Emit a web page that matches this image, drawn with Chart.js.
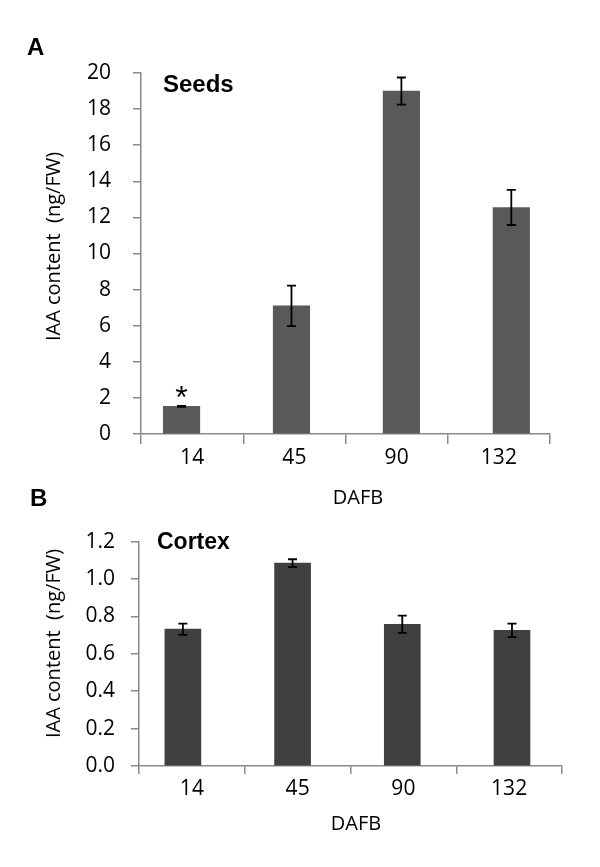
<!DOCTYPE html>
<html>
<head>
<meta charset="utf-8">
<script src="https://cdn.jsdelivr.net/npm/chart.js@4.4.0/dist/chart.umd.min.js"></script>
<style>
body { margin: 0; background: #fff; }
#wrap { position: relative; width: 600px; height: 867px; }
.box { position: absolute; left: 0; width: 600px; }
</style>
</head>
<body>
<div id="wrap">
  <div class="box" style="top:0;height:520px"><canvas id="seeds"></canvas></div>
  <div class="box" style="top:480px;height:387px"><canvas id="cortex"></canvas></div>
</div>
<script>
// days after full bloom
var days = ["14", "45", "90", "132"];

// panel A - seeds
var seedsIAA = [1.53, 7.10, 19.0, 12.55];
var seedsErr = [0.03, 1.12, 0.75, 0.97];
var seedsTicks = [0, 2, 4, 6, 8, 10, 12, 14, 16, 18, 20];

// panel B - cortex
var cortexIAA = [0.732, 1.085, 0.758, 0.726];
var cortexErr = [0.03, 0.021, 0.046, 0.036];
var cortexTicks = [0, 0.2, 0.4, 0.6, 0.8, 1.0, 1.2];

var yTitle = "IAA content  (ng/FW)";
var xTitle = "DAFB";

var axisGray = "#8a8a8a";
var tickFont = { family: "'Open Sans'", size: 21 };

// draws the error bars from the y scale
var errorBars = {
  id: "errorBars",
  afterDatasetsDraw: function (chart, args, opts) {
    var ctx = chart.ctx, y = chart.scales.y;
    var meta = chart.getDatasetMeta(0);
    ctx.save();
    ctx.strokeStyle = "#000";
    ctx.lineWidth = opts.width;
    meta.data.forEach(function (bar, i) {
      var v = chart.data.datasets[0].data[i].y, e = opts.errors[i];
      var top = y.getPixelForValue(v + e), bot = y.getPixelForValue(v - e);
      ctx.beginPath();
      ctx.moveTo(bar.x, top); ctx.lineTo(bar.x, bot);
      ctx.moveTo(bar.x - opts.cap, top); ctx.lineTo(bar.x + opts.cap, top);
      ctx.moveTo(bar.x - opts.cap, bot); ctx.lineTo(bar.x + opts.cap, bot);
      ctx.stroke();
    });
    // significance star
    if (opts.star != null) {
      var b = meta.data[opts.star];
      var vs = chart.data.datasets[0].data[opts.star].y + opts.errors[opts.star];
      ctx.font = "32px 'Liberation Sans'";
      ctx.fillStyle = "#000";
      ctx.textAlign = "center";
      ctx.textBaseline = "alphabetic";
      var m = ctx.measureText("*");
      var cy = y.getPixelForValue(vs) - 14;
      ctx.fillText("*", b.x, cy + (m.actualBoundingBoxAscent - m.actualBoundingBoxDescent) / 2);
    }
    ctx.restore();
  }
};

// panel letter, panel name and axis titles
var panelText = {
  id: "panelText",
  afterDraw: function (chart, args, o) {
    var ctx = chart.ctx;
    ctx.save();
    ctx.fillStyle = "#000";
    ctx.textBaseline = "alphabetic";
    ctx.textAlign = "left";
    ctx.font = "bold 24px 'Liberation Sans'";
    ctx.fillText(o.letter, o.letterX, o.letterY);
    ctx.font = "bold " + o.nameSize + "px 'Liberation Sans'";
    ctx.fillText(o.name, o.nameX, o.nameY);
    ctx.font = "20px 'Open Sans'";
    ctx.textAlign = "center";
    ctx.fillText(xTitle, o.xTitleX, o.xTitleY);
    ctx.translate(o.yTitleX, o.yTitleY);
    ctx.rotate(-Math.PI / 2);
    ctx.fillText(yTitle, 0, 0);
    ctx.restore();
  }
};

function makeChart(id, values, errs, color, t) {
  return new Chart(document.getElementById(id), {
    type: "bar",
    data: {
      labels: days,
      datasets: [{
        data: values.map(function (v, i) { return { x: i, y: v }; }),
        xAxisID: "xb",
        backgroundColor: color,
        borderWidth: 0,
        barThickness: t.barWidth
      }]
    },
    options: {
      responsive: true,
      maintainAspectRatio: false,
      animation: false,
      layout: { padding: t.padding },
      plugins: {
        legend: { display: false },
        tooltip: { enabled: false },
        errorBars: { errors: errs, cap: 4.5, width: 1.8, star: t.star },
        panelText: t.text
      },
      scales: {
        x: {
          type: "category",
          offset: true,
          grid: { offset: true, drawOnChartArea: false, tickLength: t.xTick, color: axisGray, lineWidth: 1.5 },
          border: { color: axisGray, width: 1.5 },
          ticks: { padding: t.xPad, font: tickFont, color: "#000" },
          afterFit: function (s) { s.height = t.xHeight; }
        },
        xb: { type: "linear", display: false, offset: false, min: t.barMin, max: t.barMax },
        y: {
          min: t.yTicks[0],
          max: t.yTicks[t.yTicks.length - 1],
          afterBuildTicks: function (s) { s.ticks = t.yTicks.map(function (v) { return { value: v }; }); },
          grid: { drawOnChartArea: false, tickLength: 8, color: axisGray, lineWidth: 1.5 },
          border: { color: axisGray, width: 1.5 },
          ticks: { padding: t.yPad, font: tickFont, color: "#000", callback: t.fmt },
          afterFit: function (s) { s.width = t.yWidth; }
        }
      }
    },
    plugins: [errorBars, panelText]
  });
}

makeChart("seeds", seedsIAA, seedsErr, "#595959", {
  padding: { top: 73, right: 50, left: 0, bottom: 0 },
  yWidth: 141, xHeight: 86, xTick: 10, xPad: 1, yPad: 22,
  barMin: -0.369, barMax: 3.352, barWidth: 36.5,
  yTicks: seedsTicks,
  fmt: function (v) { return String(v); },
  star: 0,
  text: { letter: "A", letterX: 27, letterY: 55, name: "Seeds", nameSize: 24, nameX: 163, nameY: 92,
          xTitleX: 358, xTitleY: 504, yTitleX: 60, yTitleY: 246.5 }
});

makeChart("cortex", cortexIAA, cortexErr, "#404040", {
  padding: { top: 61.7, right: 38, left: 0, bottom: 0 },
  yWidth: 139, xHeight: 101, xTick: 8, xPad: 2, yPad: 16,
  barMin: -0.400, barMax: 3.456, barWidth: 36,
  yTicks: cortexTicks,
  fmt: function (v) { return v.toFixed(1); },
  star: null,
  text: { letter: "B", letterX: 30, letterY: 26, name: "Cortex", nameSize: 23, nameX: 157, nameY: 69,
          xTitleX: 356, xTitleY: 350, yTitleX: 60, yTitleY: 163.5 }
});
</script>
</body>
</html>
